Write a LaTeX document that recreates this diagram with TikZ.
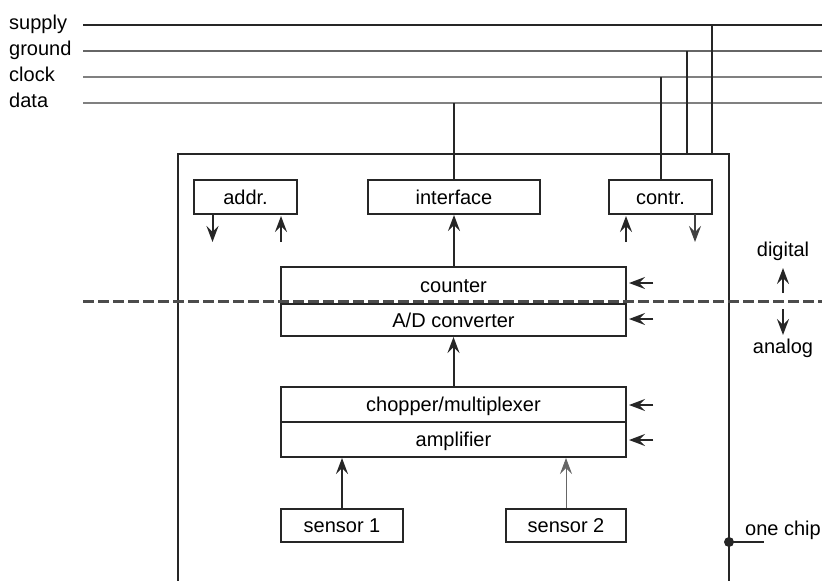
\documentclass[tikz,border=0pt]{standalone}
\usepackage{fontspec}
\setmainfont{Liberation Sans}
\usetikzlibrary{arrows.meta}
\begin{document}
\begin{tikzpicture}[x=1pt,y=-1pt,
  txt/.style={font=\fontsize{20}{23}\selectfont, inner sep=0pt},
  blk/.style={draw=black!85, line width=2pt, inner sep=0pt, font=\fontsize{20}{23}\selectfont, text height=16pt, text depth=2pt},
  tip/.style={-{Stealth[length=16pt,width=12pt,inset=6pt]}, line width=2pt, draw=black!85, fill=black!85},
  thinarr/.style={-{Stealth[length=16pt,width=12pt,inset=6pt]}, line width=0.8pt, draw=black!60},
  drop/.style={line width=2pt, draw=black!85},
  bus/.style={line width=1.5pt}]
\useasboundingbox (0,0) rectangle (822,581);

% bus lines
\coordinate (sL) at (83,25); \coordinate (sR) at (822,25);
\coordinate (gL) at (83,51); \coordinate (gR) at (822,51);
\coordinate (cL) at (83,77); \coordinate (cR) at (822,77);
\coordinate (dL) at (83,103); \coordinate (dR) at (822,103);
\draw[bus, line width=2.4pt, black!85] (sL) -- (sR);
\draw[bus, line width=1.9pt, black!60] (gL) -- (gR);
\draw[bus, black!50] (cL) -- (cR);
\draw[bus, black!50] (dL) -- (dR);
\node[txt, anchor=base west] (lsupply) at (9,29.5) {supply};
\node[txt, anchor=base west] (lground) at (9,55.5) {ground};
\node[txt, anchor=base west] (lclock) at (9,81.5) {clock};
\node[txt, anchor=base west] (ldata) at (9,107.5) {data};

% chip outline
\coordinate (chBL) at (178,582);
\coordinate (chTL) at (178,154);
\coordinate (chTR) at (729,154);
\coordinate (chBR) at (729,582);
\draw[line width=2.2pt, black!85] (chBL) -- (chTL) -- (chTR) -- (chBR);

% blocks
\node[blk, minimum width=103pt, minimum height=34pt] (addr) at (245.5,197) {addr.};
\node[blk, minimum width=172pt, minimum height=34pt] (interface) at (454,197) {interface};
\node[blk, minimum width=103pt, minimum height=34pt] (contr) at (660.5,197) {contr.};
\node[blk, minimum width=345pt, minimum height=37pt] (counter) at (453.5,285.5) {counter};
\node[blk, minimum width=345pt, minimum height=32pt] (adc) at (453.5,320) {A/D converter};
\node[blk, minimum width=345pt, minimum height=35pt] (chopper) at (453.5,404.5) {chopper/multiplexer};
\node[blk, minimum width=345pt, minimum height=35pt] (amp) at (453.5,439.5) {amplifier};
\node[blk, minimum width=122pt, minimum height=33pt] (sensor1) at (342,525.5) {sensor 1};
\node[blk, minimum width=120pt, minimum height=33pt] (sensor2) at (566,525.5) {sensor 2};

% drops from bus
\coordinate (dT) at (454,103);
\coordinate (cT) at (661,77);
\coordinate (gT) at (687,51);
\coordinate (gB) at (687,154);
\coordinate (sT) at (712,25);
\coordinate (sB) at (712,154);
\draw[drop] (dT) -- (interface.north);
\draw[drop] (cT) -- (cT |- contr.north);
\draw[drop, line width=1.6pt] (gT) -- (gB);
\draw[drop] (sT) -- (sB);

% vertical signal arrows
\draw[tip] (counter.north -| interface.south) -- (interface.south);
\draw[tip] (chopper.north) -- (chopper.north |- adc.south);
\draw[tip] (sensor1.north) -- (sensor1.north |- amp.south);
\draw[thinarr] (sensor2.north) -- (sensor2.north |- amp.south);

% addr / contr stubs
\coordinate (a1t) at (212.5,214); \coordinate (a1b) at (212.5,242);
\coordinate (a2t) at (281,216); \coordinate (a2b) at (281,242);
\coordinate (c1t) at (626,216); \coordinate (c1b) at (626,242);
\coordinate (c2t) at (695,214); \coordinate (c2b) at (695,242);
\draw[tip] (a1t) -- (a1b);
\draw[tip] (a2b) -- (a2t);
\draw[tip] (c1b) -- (c1t);
\draw[thinarr, line width=1.2pt, draw=black!75] (c2t) -- (c2b);

% side control arrows
\coordinate (e1) at (653,283); \coordinate (e2) at (653,319);
\coordinate (e3) at (653,405); \coordinate (e4) at (653,440);
\draw[tip] (e1) -- ([xshift=2pt]counter.east |- e1);
\draw[tip] (e2) -- ([xshift=2pt]adc.east |- e2);
\draw[tip] (e3) -- ([xshift=2pt]chopper.east |- e3);
\draw[tip] (e4) -- ([xshift=2pt]amp.east |- e4);

% digital / analog boundary
\coordinate (bL) at (83,301.5); \coordinate (bR) at (822,301.5);
\draw[line width=2.8pt, black!70, dash pattern=on 10.5pt off 4.5pt] (bL) -- (bR);
\node[txt, anchor=base] (digital) at (783,256) {digital};
\node[txt, anchor=base] (analog) at (783,353) {analog};
\coordinate (u1) at (783,293); \coordinate (u2) at (783,268);
\coordinate (w1) at (783,309); \coordinate (w2) at (783,335);
\draw[tip] (u1) -- (u2);
\draw[tip] (w1) -- (w2);

% one chip label
\coordinate (dot) at (729,542);
\coordinate (dotR) at (764,542);
\fill[black!85] (dot) circle (5pt);
\draw[line width=2pt, black!85] (dot) -- (dotR);
\node[txt, anchor=base west] (onechip) at (745,535) {one chip};
\end{tikzpicture}
\end{document}
